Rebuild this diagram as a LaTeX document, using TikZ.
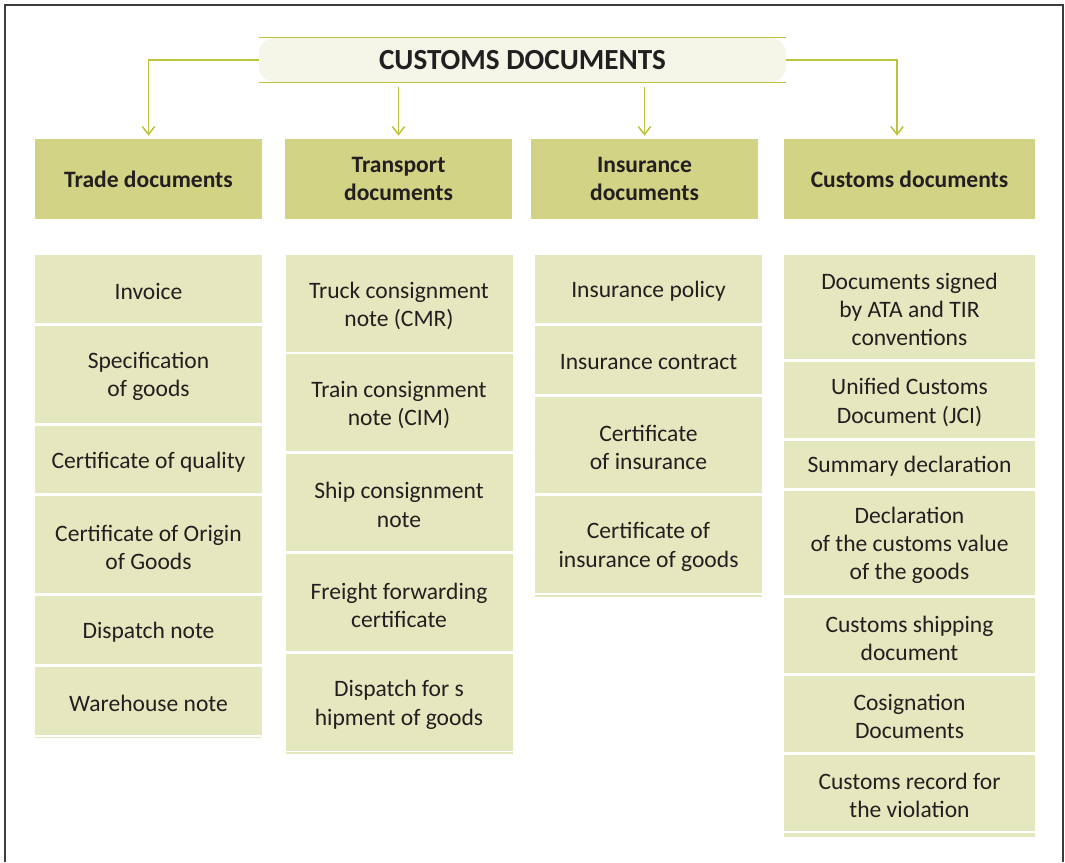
\documentclass[tikz,border=0pt]{standalone}
\usepackage{fontspec}
\setmainfont{Carlito}
\usepackage{tikz}
\usetikzlibrary{arrows.meta,positioning,calc}
\definecolor{HeadFill}{HTML}{D2D385}
\definecolor{ItemFill}{HTML}{E5E8BF}
\definecolor{TitleFill}{HTML}{F5F6E8}
\definecolor{OliveLine}{HTML}{BDC33B}
\definecolor{InkDark}{HTML}{231F20}
\definecolor{FrameGrey}{HTML}{3C3C3C}

\begin{document}
\begin{tikzpicture}[x=0.2mm,y=-0.2mm,
  head/.style={fill=HeadFill,minimum width=45.4mm,minimum height=16mm,inner sep=0pt,align=center,
    font=\fontsize{13.4}{15.8}\selectfont\bfseries,text=InkDark},
  item/.style={align=center,inner sep=0pt,yshift=-0.5mm,font=\fontsize{13.4}{16}\selectfont,text=InkDark},
  link/.style={OliveLine,line width=0.85pt,-{Straight Barb[length=4.5pt,width=7pt]},shorten >=0.6mm}]
  \useasboundingbox (0,0) rectangle (1065,862);
  % Bingkai
  \draw[FrameGrey,line width=0.6pt] (5,862) -- (5,5) -- (1063,5) -- (1063,862);
  % Tajuk utama
  \node[fill=TitleFill,rounded corners=3mm,minimum width=105.4mm,minimum height=8.8mm,
    font=\fontsize{16.6}{19}\selectfont\bfseries,text=InkDark] (title) at (522.5,60) {CUSTOMS DOCUMENTS};
  \draw[OliveLine,line width=0.85pt] (title.north west) -- (title.north east);
  \draw[OliveLine,line width=0.85pt] (title.south west) -- (title.south east);
  % Kotak kategori
  \node[head] (trade) at (148.5,179) {Trade documents};
  \node[head] (trans) at (398.5,179) {Transport\\documents};
  \node[head] (insur) at (644.5,179) {Insurance\\documents};
  \node[head,minimum width=50.2mm] (cust) at (909.5,179) {Customs documents};
  % Anak panah
  \draw[link] (title.west) -| (trade.north);
  \draw[link,shorten <=1mm] (title.south -| trans.north) -- (trans.north);
  \draw[link,shorten <=1mm] (title.south -| insur.north) -- (insur.north);
  \draw[link] (title.east) -| ([xshift=-2.5mm]cust.north);
  % Trade documents
  \foreach \t/\b/\lbl [count=\i] in {255/322.7/Invoice, 325.7/422.7/{Specification\\of goods},
    425.7/493/Certificate of quality, 496/593/{Certificate of Origin\\of Goods},
    596/664/Dispatch note, 666.7/735/Warehouse note}{
    \fill[ItemFill] (35,\t) rectangle (262,\b);
    \node[item] (trade\i) at (148.5,{(\t+\b)/2}) {\lbl};
  }
  \fill[ItemFill] (35,736.7) rectangle (262,738.3);
  % Transport documents
  \foreach \t/\b/\lbl [count=\i] in {255/351.7/{Truck consignment\\note (CMR)},
    354/451/{Train consignment\\note (CIM)}, 454/550.7/{Ship consignment\\note},
    554/651/{Freight forwarding\\certificate}, 654/750.7/{Dispatch for s\\hipment of goods}}{
    \fill[ItemFill] (285.5,\t) rectangle (512.5,\b);
    \node[item] (trans\i) at (399,{(\t+\b)/2}) {\lbl};
  }
  \fill[ItemFill] (285.5,752.3) rectangle (512.5,753.7);
  % Insurance documents
  \foreach \t/\b/\lbl [count=\i] in {255/322.7/Insurance policy, 325.7/394/Insurance contract,
    396.7/493.3/{Certificate\\of insurance}, 496/592.7/{Certificate of\\insurance of goods}}{
    \fill[ItemFill] (535,\t) rectangle (762,\b);
    \node[item] (insur\i) at (648.5,{(\t+\b)/2}) {\lbl};
  }
  \fill[ItemFill] (535,595) rectangle (762,597);
  % Customs documents
  \foreach \t/\b/\lbl [count=\i] in {255/359/{Documents signed\\by ATA and TIR\\conventions},
    362/438/{Unified Customs\\Document (JCI)}, 440.7/487.7/Summary declaration,
    490.7/595/{Declaration\\of the customs value\\of the goods}, 597.7/673.3/{Customs shipping\\document},
    676.3/752.3/{Cosignation\\Documents}, 755/830.7/{Customs record for\\the violation}}{
    \fill[ItemFill] (784,\t) rectangle (1035,\b);
    \node[item] (cust\i) at (909.5,{(\t+\b)/2}) {\lbl};
  }
  \fill[ItemFill] (784,833) rectangle (1035,836.5);
\end{tikzpicture}
\end{document}
